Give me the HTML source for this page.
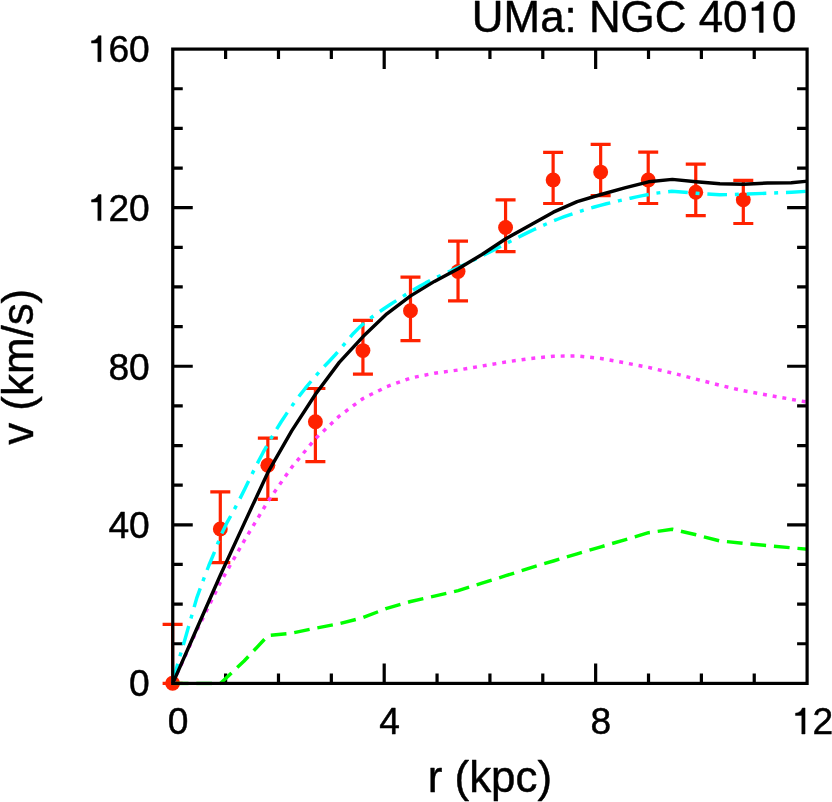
<!DOCTYPE html>
<html><head><meta charset="utf-8"><title>UMa: NGC 4010</title>
<style>html,body{margin:0;padding:0;background:#fff;overflow:hidden}svg{display:block;will-change:transform;transform:translateZ(0)}text{font-family:"Liberation Sans",sans-serif;fill:#000}</style>
</head><body>
<svg width="832" height="802" viewBox="0 0 832 802">
<rect width="832" height="802" fill="#fff"/>
<g stroke="#ff2200" stroke-width="3.20" fill="none">
<path d="M172.60 624.30V683.30 M162.60 624.30H182.60 M162.60 683.30H182.60"/>
<path d="M220.30 491.80V562.70 M210.30 491.80H230.30 M210.30 562.70H230.30"/>
<path d="M267.84 438.10V499.30 M257.84 438.10H277.84 M257.84 499.30H277.84"/>
<path d="M315.39 388.50V461.60 M305.39 388.50H325.39 M305.39 461.60H325.39"/>
<path d="M362.93 320.40V374.20 M352.93 320.40H372.93 M352.93 374.20H372.93"/>
<path d="M410.48 277.20V340.70 M400.48 277.20H420.48 M400.48 340.70H420.48"/>
<path d="M458.03 241.20V300.90 M448.03 241.20H468.03 M448.03 300.90H468.03"/>
<path d="M505.57 199.80V251.60 M495.57 199.80H515.57 M495.57 251.60H515.57"/>
<path d="M553.12 152.30V203.50 M543.12 152.30H563.12 M543.12 203.50H563.12"/>
<path d="M600.66 144.30V195.60 M590.66 144.30H610.66 M590.66 195.60H610.66"/>
<path d="M648.21 152.20V203.50 M638.21 152.20H658.21 M638.21 203.50H658.21"/>
<path d="M695.76 164.10V215.60 M685.76 164.10H705.76 M685.76 215.60H705.76"/>
<path d="M743.30 180.30V223.50 M733.30 180.30H753.30 M733.30 223.50H753.30"/>
</g>
<g fill="#ff2200">
<circle cx="172.60" cy="683.30" r="7.45"/>
<circle cx="220.30" cy="528.90" r="7.45"/>
<circle cx="267.84" cy="465.30" r="7.45"/>
<circle cx="315.39" cy="421.70" r="7.45"/>
<circle cx="362.93" cy="350.60" r="7.45"/>
<circle cx="410.48" cy="310.80" r="7.45"/>
<circle cx="458.03" cy="271.40" r="7.45"/>
<circle cx="505.57" cy="227.50" r="7.45"/>
<circle cx="553.12" cy="179.90" r="7.45"/>
<circle cx="600.66" cy="172.10" r="7.45"/>
<circle cx="648.21" cy="180.00" r="7.45"/>
<circle cx="695.76" cy="192.20" r="7.45"/>
<circle cx="743.30" cy="199.80" r="7.45"/>
</g>
<g stroke="#000" stroke-width="3.20" fill="none">
<path d="M225.61 683.40v-10.00 M225.61 49.10v10.00 M278.48 683.40v-10.00 M278.48 49.10v10.00 M331.34 683.40v-10.00 M331.34 49.10v10.00 M384.20 683.40v-20.00 M384.20 49.10v20.00 M437.06 683.40v-10.00 M437.06 49.10v10.00 M489.93 683.40v-10.00 M489.93 49.10v10.00 M542.79 683.40v-10.00 M542.79 49.10v10.00 M595.65 683.40v-20.00 M595.65 49.10v20.00 M648.51 683.40v-10.00 M648.51 49.10v10.00 M701.38 683.40v-10.00 M701.38 49.10v10.00 M754.24 683.40v-10.00 M754.24 49.10v10.00 M172.75 643.76h10.00 M807.10 643.76h-10.00 M172.75 604.11h10.00 M807.10 604.11h-10.00 M172.75 564.47h10.00 M807.10 564.47h-10.00 M172.75 524.83h20.00 M807.10 524.83h-20.00 M172.75 485.18h10.00 M807.10 485.18h-10.00 M172.75 445.54h10.00 M807.10 445.54h-10.00 M172.75 405.89h10.00 M807.10 405.89h-10.00 M172.75 366.25h20.00 M807.10 366.25h-20.00 M172.75 326.61h10.00 M807.10 326.61h-10.00 M172.75 286.96h10.00 M807.10 286.96h-10.00 M172.75 247.32h10.00 M807.10 247.32h-10.00 M172.75 207.68h20.00 M807.10 207.68h-20.00 M172.75 168.03h10.00 M807.10 168.03h-10.00 M172.75 128.39h10.00 M807.10 128.39h-10.00 M172.75 88.74h10.00 M807.10 88.74h-10.00"/>
</g>
<clipPath id="c"><rect x="170.75" y="49.10" width="636.35" height="636.30"/></clipPath><g fill="none" stroke-width="3.45" stroke-linejoin="round" clip-path="url(#c)">
<path d="M172.75 683.55 L196.54 683.55 L220.33 683.55 L244.11 661.00 L267.90 635.60 L291.69 633.20 L315.48 628.20 L339.27 623.70 L363.06 617.60 L386.84 608.30 L410.63 601.50 L434.42 596.10 L458.21 590.60 L482.00 583.20 L505.78 575.70 L529.57 568.10 L553.36 561.00 L577.15 553.90 L600.94 546.80 L624.72 539.80 L648.51 532.70 L672.30 529.30 L696.09 534.80 L719.88 540.90 L743.66 543.40 L767.45 545.60 L791.24 547.80 L815.03 549.90" stroke="#00ff00" stroke-dasharray="15.74 7.87" stroke-dashoffset="0"/>
<path d="M172.75 683.40 L196.54 631.00 L220.33 582.60 L244.11 540.90 L267.90 501.40 L291.69 467.30 L315.48 438.60 L339.27 416.10 L363.06 398.50 L386.84 386.60 L410.63 378.00 L434.42 373.20 L458.21 370.00 L482.00 366.00 L505.78 362.00 L529.57 358.60 L553.36 356.20 L577.15 355.90 L600.94 358.50 L624.72 362.80 L648.51 367.40 L672.30 373.00 L696.09 379.10 L719.88 385.30 L743.66 390.80 L767.45 395.10 L791.24 399.30 L815.03 403.40" stroke="#ff40ff" stroke-dasharray="3.93 5.9" stroke-dashoffset="0"/>
<path d="M172.60 683.20 L178.63 660.46 L184.65 640.43 L190.68 619.33 L196.70 598.16 L202.73 581.52 L208.75 565.74 L214.78 551.21 L220.80 535.45 L226.83 522.96 L232.85 512.09 L238.88 500.83 L244.90 488.67 L250.93 476.23 L256.95 464.13 L262.98 452.69 L269.01 441.89 L275.03 431.68 L281.06 422.03 L287.08 412.92 L293.11 404.31 L299.13 396.16 L305.16 388.44 L311.18 381.13 L317.21 374.17 L323.23 367.56 L329.26 361.19 L335.28 354.75 L341.31 347.84 L347.33 340.49 L353.36 333.43 L359.38 327.36 L365.41 322.15 L371.44 317.46 L377.46 313.11 L383.49 309.01 L389.51 305.05 L395.54 301.15 L401.56 297.28 L407.59 293.48 L413.61 289.79 L419.64 286.25 L425.66 282.90 L431.69 279.78 L437.71 276.86 L443.74 274.07 L449.76 271.36 L455.79 268.65 L461.82 265.87 L467.84 263.01 L473.87 260.06 L479.89 257.04 L485.92 253.98 L491.94 250.87 L497.97 247.75 L503.99 244.63 L510.02 241.52 L516.04 238.44 L522.07 235.40 L528.09 232.42 L534.12 229.52 L540.14 226.71 L546.17 224.01 L552.19 221.44 L558.22 219.00 L564.25 216.70 L570.27 214.53 L576.30 212.49 L582.32 210.55 L588.35 208.72 L594.37 206.99 L600.40 205.35 L606.42 203.79 L612.45 202.30 L618.47 200.88 L624.50 199.52 L630.52 198.20 L636.55 196.92 L642.57 195.68 L648.60 194.45 L656.00 193.20 L671.90 191.20 L695.90 193.20 L719.80 194.80 L743.80 194.20 L767.70 193.20 L791.60 192.20 L806.50 191.30" stroke="#00ffff" stroke-dasharray="19.67 7.87 3.93 7.87" stroke-dashoffset="-0.4"/>
<path d="M172.75 683.40 L196.54 629.30 L220.33 575.20 L244.11 523.60 L267.90 472.40 L291.69 430.90 L315.48 394.20 L339.27 362.40 L363.06 336.60 L386.84 313.80 L410.63 295.90 L434.42 281.40 L458.21 268.70 L482.00 254.50 L505.78 238.80 L529.57 225.60 L553.36 212.20 L577.15 201.60 L600.94 194.50 L624.72 187.90 L648.51 181.80 L672.30 179.40 L696.09 181.80 L719.88 183.80 L743.66 184.20 L767.45 183.00 L791.24 182.80 L815.03 180.40" stroke="#000"/>
</g>
<rect x="172.75" y="49.10" width="634.35" height="634.30" stroke="#000" stroke-width="3.20" fill="none"/>
<g font-size="37.20" stroke="#000" stroke-width="0.45" stroke-linejoin="round" fill="#000">
<text transform="translate(129.11 696.45) scale(1 1.015)">0</text>
<text transform="translate(108.42 538.18) scale(1 1.015)">40</text>
<text transform="translate(108.42 379.90) scale(1 1.015)">80</text>
<path transform="translate(87.73 220.62) scale(0.03720 -0.03670)" d="M359 0H271V505H101V568C190 575 262 625 287 709H359Z" stroke-width="12.1"/>
<text transform="translate(108.42 220.62) scale(1 1.015)">20</text>
<path transform="translate(87.73 61.65) scale(0.03720 -0.03670)" d="M359 0H271V505H101V568C190 575 262 625 287 709H359Z" stroke-width="12.1"/>
<text transform="translate(108.42 61.65) scale(1 1.015)">60</text>
<text transform="translate(167.70 734.00) scale(1 1.015)">0</text>
<text transform="translate(379.15 734.00) scale(1 1.015)">4</text>
<text transform="translate(590.60 734.00) scale(1 1.015)">8</text>
<path transform="translate(791.71 734.00) scale(0.03720 -0.03670)" d="M359 0H271V505H101V568C190 575 262 625 287 709H359Z" stroke-width="12.1"/>
<text transform="translate(812.40 734.00) scale(1 1.015)">2</text>
</g>
<g font-size="43.90" stroke="#000" stroke-width="0.45" stroke-linejoin="round" fill="#000">
<text transform="translate(747.47 32.4) scale(1 1.015)" text-anchor="end">UMa: NGC 40</text>
<path transform="translate(747.47 32.40) scale(0.04390 -0.04331)" d="M359 0H271V505H101V568C190 575 262 625 287 709H359Z" stroke-width="10.3"/>
<text transform="translate(771.88 32.40) scale(1 1.015)">0</text>
<text transform="translate(489.9 791.5) scale(1 1.000)" text-anchor="middle">r (kpc)</text>
<text transform="translate(33.2 366.8) rotate(-90) scale(1 1.000)" text-anchor="middle">v (km/s)</text>
</g>
</svg></body></html>
